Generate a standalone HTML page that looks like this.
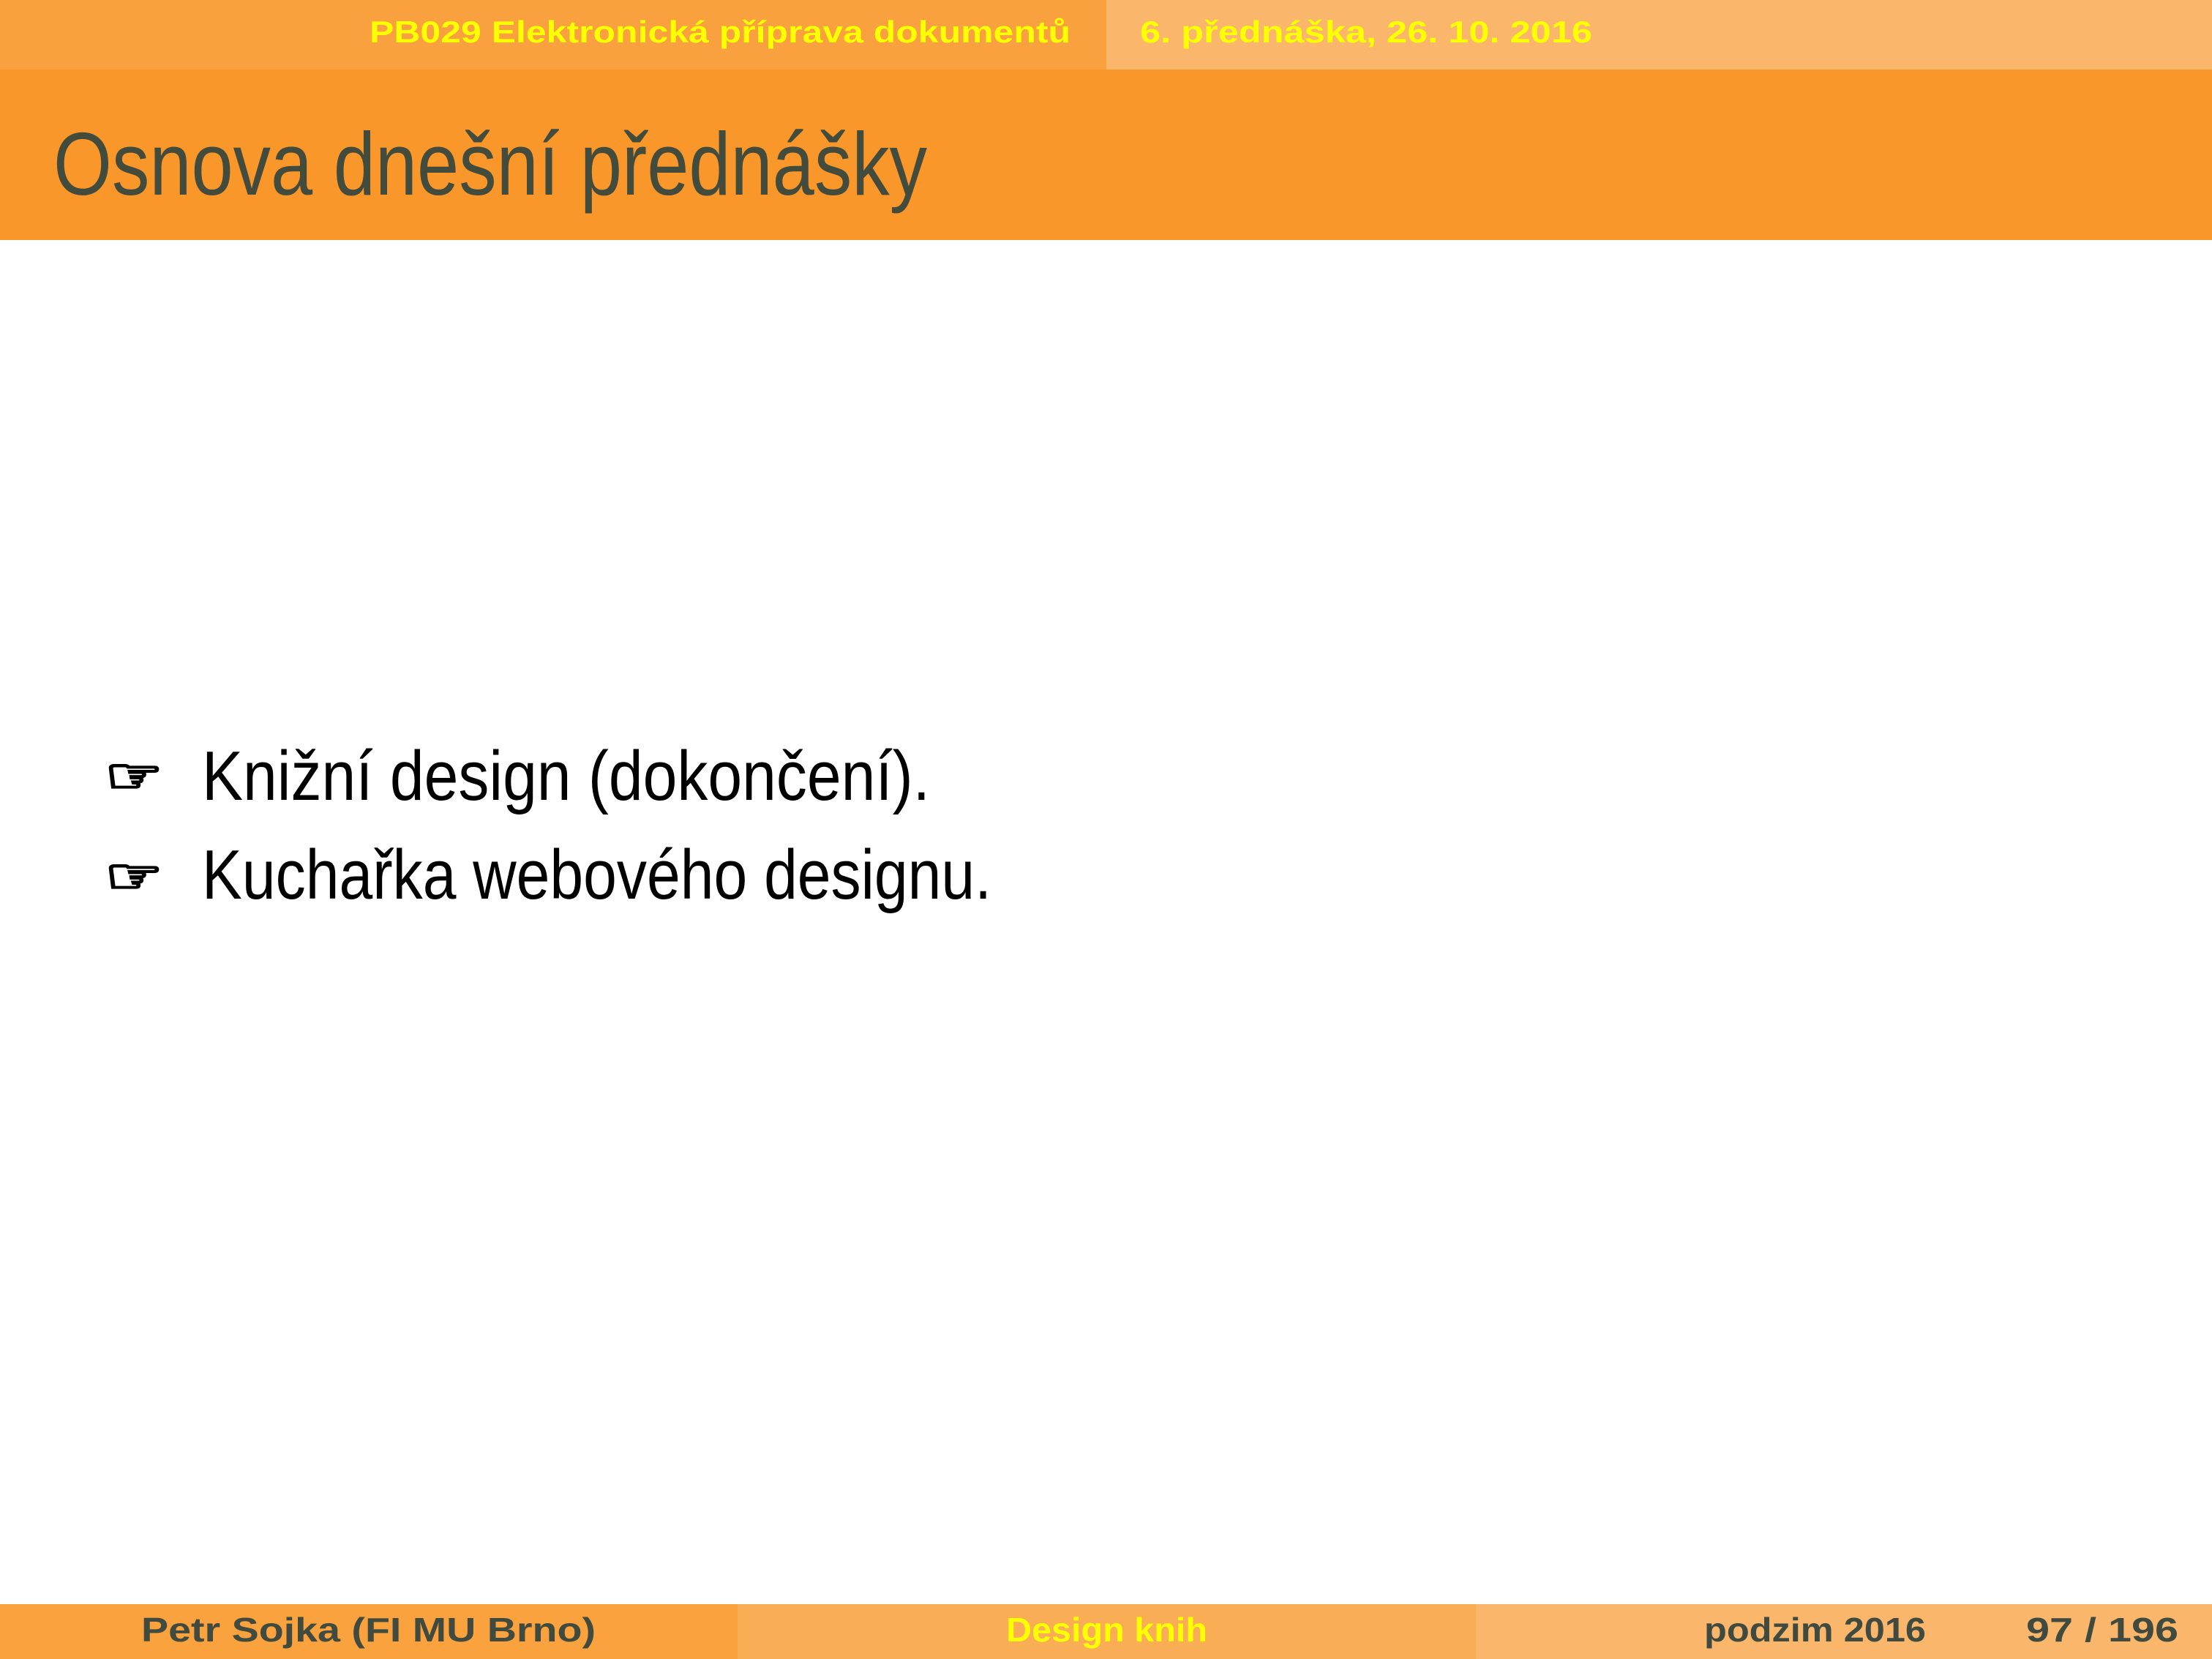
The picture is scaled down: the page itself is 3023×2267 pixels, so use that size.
<!DOCTYPE html>
<html><head><meta charset="utf-8">
<style>
html,body{margin:0;padding:0;background:#fff;}
svg{display:block;}
text{font-family:"Liberation Sans","DejaVu Sans",sans-serif;}
</style></head>
<body>
<svg width="3023" height="2267" viewBox="0 0 3023 2267" xmlns="http://www.w3.org/2000/svg">
<rect x="0" y="0" width="3023" height="2267" fill="#ffffff"/>
<rect x="0" y="0" width="1512" height="95" fill="#f9a13e"/>
<rect x="1512" y="0" width="1511" height="95" fill="#fab76b"/>
<text x="505" y="58" font-size="42" font-weight="bold" fill="#ffff00" textLength="958" lengthAdjust="spacingAndGlyphs">PB029 Elektronická příprava dokumentů</text>
<text x="1558" y="58" font-size="42" font-weight="bold" fill="#ffff00" textLength="618" lengthAdjust="spacingAndGlyphs">6. přednáška, 26. 10. 2016</text>
<rect x="0" y="95" width="3023" height="233" fill="#f9972b"/>
<text x="73" y="266" font-size="122" fill="#434b3c" textLength="1194" lengthAdjust="spacingAndGlyphs">Osnova dnešní přednášky</text>
<text x="143" y="1083" font-size="66" fill="#000" stroke="#000" stroke-width="3" font-family="DejaVu Sans" textLength="80" lengthAdjust="spacingAndGlyphs">☞</text>
<text x="276" y="1093" font-size="96" fill="#000" textLength="995" lengthAdjust="spacingAndGlyphs">Knižní design (dokončení).</text>
<text x="143" y="1220" font-size="66" fill="#000" stroke="#000" stroke-width="3" font-family="DejaVu Sans" textLength="80" lengthAdjust="spacingAndGlyphs">☞</text>
<text x="276" y="1228" font-size="96" fill="#000" textLength="1079" lengthAdjust="spacingAndGlyphs">Kuchařka webového designu.</text>
<rect x="0" y="2192" width="1008" height="75" fill="#f9a23e"/>
<rect x="1008" y="2192" width="1009" height="75" fill="#f9ae56"/>
<rect x="2017" y="2192" width="1006" height="75" fill="#fab76b"/>
<text x="193" y="2243" font-size="46" font-weight="bold" fill="#404a3f" textLength="621" lengthAdjust="spacingAndGlyphs">Petr Sojka  (FI MU Brno)</text>
<text x="1375" y="2243" font-size="46" font-weight="bold" fill="#ffff00" textLength="275" lengthAdjust="spacingAndGlyphs">Design knih</text>
<text x="2329" y="2243" font-size="46" font-weight="bold" fill="#404a3f" textLength="303" lengthAdjust="spacingAndGlyphs">podzim 2016</text>
<text x="2769" y="2243" font-size="46" font-weight="bold" fill="#404a3f" textLength="208" lengthAdjust="spacingAndGlyphs">97 / 196</text>
</svg>
</body></html>
